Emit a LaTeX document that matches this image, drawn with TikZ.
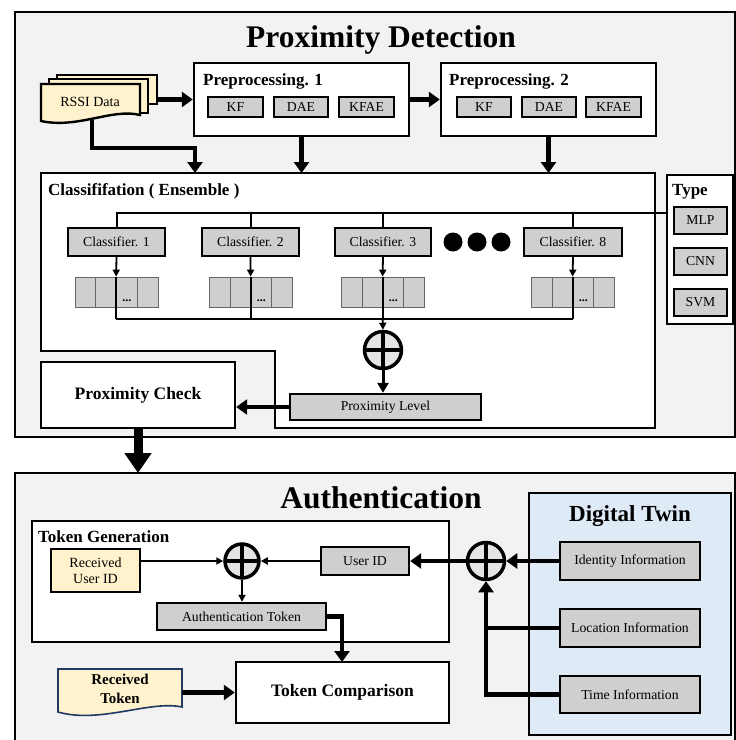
\documentclass[tikz,border=0pt]{standalone}
\usepackage{fontspec}
\setmainfont{Liberation Serif}
\usetikzlibrary{arrows.meta}
\definecolor{bgc}{HTML}{F2F2F2}
\definecolor{grayc}{HTML}{D0CECE}
\definecolor{yelc}{HTML}{FFF2CC}
\definecolor{bluec}{HTML}{DEEAF6}
\definecolor{xorc}{HTML}{E4E4E4}
\definecolor{navyc}{HTML}{203864}
\newcommand\bx[7]{%
  \pgfmathsetmacro\bxcx{(#3+#5)/2}\pgfmathsetmacro\bxcy{(#4+#6)/2}%
  \pgfmathsetmacro\bxw{#5-#3}\pgfmathsetmacro\bxh{#6-#4}%
  \node[#1, minimum width=\bxw pt, minimum height=\bxh pt] (#2) at (\bxcx,\bxcy) {#7};}
\newcommand\vecbox[2]{%
  \foreach \i in {1,2,3,4}{%
    \pgfmathsetmacro\vcx{#2+(\i-0.5)*20.75}%
    \node[cell] (#1\i) at (\vcx,292) {};}%
  \path (#13.south) ++(0,-6) node[anchor=base, inner sep=0pt, font=\bfseries\fontsize{12}{14}\selectfont] (#1dots) {...};}
\begin{document}
\begin{tikzpicture}[x=1pt,y=-1pt,
  box/.style={draw, line width=2.4pt, fill=white, inner sep=0pt},
  gbox/.style={draw, line width=2.4pt, fill=grayc, inner sep=0pt, font=\fontsize{13.7}{16}\selectfont},
  ybox/.style={draw, line width=2.4pt, fill=yelc, inner sep=0pt, align=center, font=\fontsize{14}{16}\selectfont},
  cell/.style={draw=black!60, line width=0.8pt, fill=grayc, inner sep=0pt, minimum width=20.75pt, minimum height=30pt},
  thk/.style={line width=4.5pt, -{Triangle[length=11pt,width=15pt]}},
  thn/.style={line width=1.8pt, -{Triangle[length=7pt,width=7pt]}},
  mid/.style={line width=3pt, -{Triangle[length=10pt,width=11pt]}},
  brl/.style={line width=2pt},
  xor/.style={circle, draw, line width=3.5pt, fill=xorc, inner sep=0pt, minimum size=#1,
    path picture={\draw[line width=3.5pt] (path picture bounding box.north) -- (path picture bounding box.south);
                  \draw[line width=3.5pt] (path picture bounding box.west) -- (path picture bounding box.east);}},
  xor/.default=37pt,
  lbl/.style={anchor=base west, inner sep=0pt, font=\bfseries\fontsize{17}{20}\selectfont},
  ttl/.style={anchor=base, inner sep=0pt, font=\bfseries\fontsize{31.5}{36}\selectfont},
  doc/.style={line width=2.4pt, fill=yelc, line join=miter},
]
\useasboundingbox (0,0) rectangle (736,740);

% ---------------- Proximity Detection ----------------
\bx{draw, line width=2.4pt, fill=bgc}{outerA}{15}{12}{735.5}{437}{}
\node[ttl] (titleA) at (381,47) {Proximity Detection};

% RSSI data (multi-document)
\draw[doc] (57,75) rectangle (157,104);
\draw[doc] (49,79) rectangle (148,113);
\draw[doc] (41,84) -- (140,84) -- (140,115) .. controls (112,108) and (78,129) .. (41,121) -- cycle;
\node[inner sep=0pt, font=\fontsize{14}{16}\selectfont] (rssi) at (90,102) {RSSI Data};
\coordinate (rssiR) at (157,99.5);
\coordinate (rssiB) at (92,120);

% Preprocessing 1
\bx{box}{prepA}{194}{63}{409}{136}{}
\node[lbl] (prepAl) at (203,85) {Preprocessing. 1};
\bx{gbox}{pAkf}{208}{97}{263}{117}{KF}
\bx{gbox}{pAdae}{274}{97}{328}{117}{DAE}
\bx{gbox}{pAkfae}{339}{97}{394}{117}{KFAE}

% Preprocessing 2
\bx{box}{prepB}{441}{63}{656}{136}{}
\node[lbl] (prepBl) at (449,85) {Preprocessing. 2};
\bx{gbox}{pBkf}{457}{97}{511}{117}{KF}
\bx{gbox}{pBdae}{522}{97}{576}{117}{DAE}
\bx{gbox}{pBkfae}{586}{97}{641}{117}{KFAE}

% Classification (L-shaped)
\draw[line width=2.4pt, fill=white] (41,173) -- (655,173) -- (655,428) -- (275,428) -- (275,351) -- (41,351) -- cycle;
\node[lbl] (clsl) at (48,195) {Classififation ( Ensemble )};
\coordinate (clsInA) at (195,173);
\coordinate (clsInB) at (301.5,173);
\coordinate (clsInC) at (548.5,173);

\draw[thk] (rssiR) -- (prepA.west);
\draw[thk] (prepA.east) -- (prepB.west);
\draw[thk] (rssiB) |- (195,148) -- (clsInA);
\draw[thk] (prepA.south) -- (clsInB);
\draw[thk] (prepB.south) -- (clsInC);

% Type
\bx{box}{typeb}{667}{175}{733}{324}{}
\node[lbl] (typel) at (672,195) {Type};
\bx{gbox}{mlp}{674}{207}{727}{234}{MLP}
\bx{gbox}{cnn}{674}{248}{727}{275}{CNN}
\bx{gbox}{svm}{674}{289}{727}{316}{SVM}

% Classifiers
\bx{gbox}{cA}{68}{228}{165}{256}{Classifier. 1}
\bx{gbox}{cB}{202}{228}{299}{256}{Classifier. 2}
\bx{gbox}{cC}{335}{228}{431}{256}{Classifier. 3}
\bx{gbox}{cH}{524}{228}{622}{256}{Classifier. 8}
\foreach \dx [count=\k] in {453,477,501} \fill (\dx,242) circle (9.5pt) coordinate (dot\k);

\coordinate (brT) at (117,213);
\draw[brl] (cA.north) |- (typeb.west |- brT);
\draw[brl] (cB.north) -- (cB.north |- brT);
\draw[brl] (cC.north) -- (cC.north |- brT);
\draw[brl] (cH.north) -- (cH.north |- brT);

% vectors
\vecbox{vA}{75}
\vecbox{vB}{209.5}
\vecbox{vC}{341.5}
\vecbox{vH}{531.5}

\coordinate (brB) at (117,319);
\foreach \c/\v in {cA/vA,cB/vB,cC/vC,cH/vH}{
  \draw[thn] (\c.south) -- (\v3.north west);
  \draw[brl] (\v3.north west) -- (\v3.south west |- brB);
}
\draw[brl] (vA3.south west |- brB) -- (vH3.south west |- brB);

% XOR 1 and proximity level
\node[xor] (xorA) at (383,350) {};
\draw[thn] (vC3.south west |- brB) -- (xorA.north);
\bx{gbox}{plev}{290}{394}{481}{420}{Proximity Level}
\draw[mid] (xorA.south) -- (plev.north -| xorA.south);
\bx{box}{pchk}{41}{362}{235}{428}{\bfseries\fontsize{17.5}{20}\selectfont Proximity Check}
\draw[thk] (plev.west) -- (plev.west -| pchk.east);

% ---------------- Authentication ----------------
\bx{draw, line width=2.4pt, fill=bgc}{outerB}{15}{473}{735.5}{745}{}
\node[ttl] (titleB) at (381,508) {Authentication};
\coordinate (authIn) at (138,473);
\draw[line width=9pt, -{Triangle[length=20pt,width=26pt]}] (pchk.south) -- (authIn);

% Token generation
\bx{box}{tgen}{32}{521}{449}{642}{}
\node[lbl] (tgenl) at (38,542) {Token Generation};
\bx{ybox}{ruid}{51}{549}{140}{592}{Received\\User ID}
\node[xor=34pt] (xorB) at (242,561) {};
\bx{gbox}{uid}{321}{547}{409}{575}{User ID}
\bx{gbox}{atok}{157}{603}{326}{630}{Authentication Token}
\draw[thn] (ruid.east |- xorB) -- (xorB.west);
\draw[thn] (uid.west) -- (xorB.east);
\draw[thn] (xorB.south) -- (atok.north -| xorB.south);

% Token comparison
\bx{box}{tcmp}{236}{662}{449}{723}{\bfseries\fontsize{17.5}{20}\selectfont Token Comparison}
\coordinate (tcIn) at (342,662);
\draw[thk] (atok.east) -| (tcIn);

% Received token (document)
\draw[line width=1.6pt, draw=navyc, fill=yelc] (58,669) -- (182,669) -- (182,707) .. controls (150,700) and (100,724) .. (58,712) -- cycle;
\node[inner sep=0pt, align=center, font=\bfseries\fontsize{15}{19}\selectfont] (rtok) at (120,689) {Received\\Token};
\coordinate (rtokR) at (182,692.5);
\draw[thk] (rtokR) -- (tcmp.west);

% Digital twin
\bx{draw, line width=2.4pt, fill=bluec}{dtw}{529}{493}{731}{735}{}
\node[anchor=base, inner sep=0pt, font=\bfseries\fontsize{23}{26}\selectfont] (dtwl) at (630,521) {Digital Twin};
\bx{gbox}{idi}{560}{542}{700}{580}{Identity Information}
\bx{gbox}{loci}{560}{609}{700}{647}{Location Information}
\bx{gbox}{timi}{560}{676}{700}{713}{Time Information}
\node[xor] (xorC) at (486,561) {};
\draw[thk] (idi.west) -- (xorC.east);
\draw[thk] (xorC.west) -- (uid.east);
\draw[line width=4.5pt] (loci.west) -- (loci.west -| xorC.south);
\draw[thk] (timi.west) -| (xorC.south);
\end{tikzpicture}
\end{document}
